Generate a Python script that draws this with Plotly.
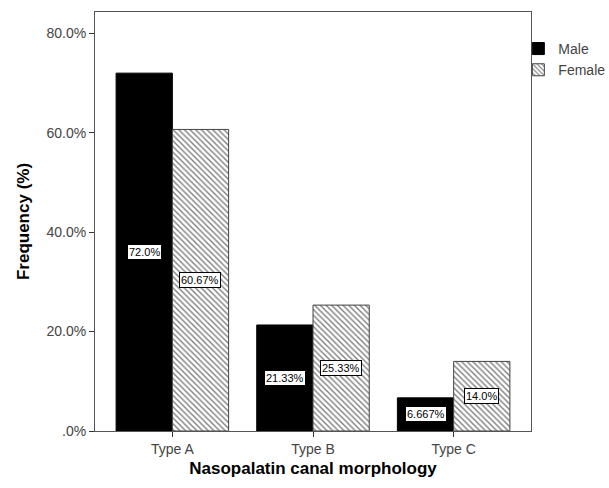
import plotly.graph_objects as go

categories = ["Type A", "Type B", "Type C"]
male = [72.0, 21.33, 6.667]
female = [60.67, 25.33, 14.0]
male_labels = ["72.0%", "21.33%", "6.667%"]
female_labels = ["60.67%", "25.33%", "14.0%"]
ytick_vals = [0, 20, 40, 60, 80]
ytick_text = [".0%", "20.0%", "40.0%", "60.0%", "80.0%"]

FONT = "Arial, Liberation Sans, sans-serif"

fig = go.Figure()
fig.add_trace(go.Bar(
    x=categories, y=male, name="Male",
    marker=dict(color="black", line=dict(color="black", width=1)),
))
fig.add_trace(go.Bar(
    x=categories, y=female, name="Female",
    marker=dict(color="white", line=dict(color="#444", width=1),
                pattern=dict(shape="\\", fgcolor="black", bgcolor="white",
                             size=4, solidity=0.35)),
))

annotations = []
for i, cat in enumerate(categories):
    for vals, labs, shift in ((male, male_labels, -28), (female, female_labels, 28)):
        annotations.append(dict(
            x=cat, y=vals[i] / 2, xref="x", yref="y", text=labs[i],
            showarrow=False, xshift=shift,
            font=dict(family=FONT, size=11, color="black"),
            bgcolor="white", bordercolor="black", borderwidth=1, borderpad=1,
        ))

fig.update_layout(
    width=609, height=488,
    margin=dict(l=95, r=78, t=12, b=57, autoexpand=False),
    paper_bgcolor="white", plot_bgcolor="white",
    barmode="group", bargap=0.2, bargroupgap=0,
    font=dict(family=FONT, size=14, color="#444"),
    showlegend=True,
    legend=dict(x=0.971, y=0.95, xanchor="left", yanchor="top",
                bgcolor="rgba(0,0,0,0)", font=dict(size=14, color="#444"),
                itemwidth=30, tracegroupgap=0),
    annotations=annotations,
    xaxis=dict(
        range=[-0.55, 2.55], showline=True, linecolor="#555", linewidth=1,
        mirror=True, ticks="outside", ticklen=5, tickcolor="#333",
        showgrid=False, tickfont=dict(size=14, color="#444"),
        title=dict(text="<b>Nasopalatin canal morphology</b>",
                   font=dict(size=17, color="black"), standoff=6),
    ),
    yaxis=dict(
        range=[0, 84.3], showline=True, linecolor="#555", linewidth=1,
        mirror=True, ticks="outside", ticklen=5, tickcolor="#333",
        showgrid=False, zeroline=False,
        tickvals=ytick_vals, ticktext=ytick_text,
        tickfont=dict(size=14, color="#444"),
        title=dict(text="<b>Frequency (%)</b>",
                   font=dict(size=17, color="black"), standoff=12),
    ),
)

fig.write_html("out.html", config={"displayModeBar": False},
               post_script="document.body.style.margin='0px';document.body.style.overflow='hidden';")
